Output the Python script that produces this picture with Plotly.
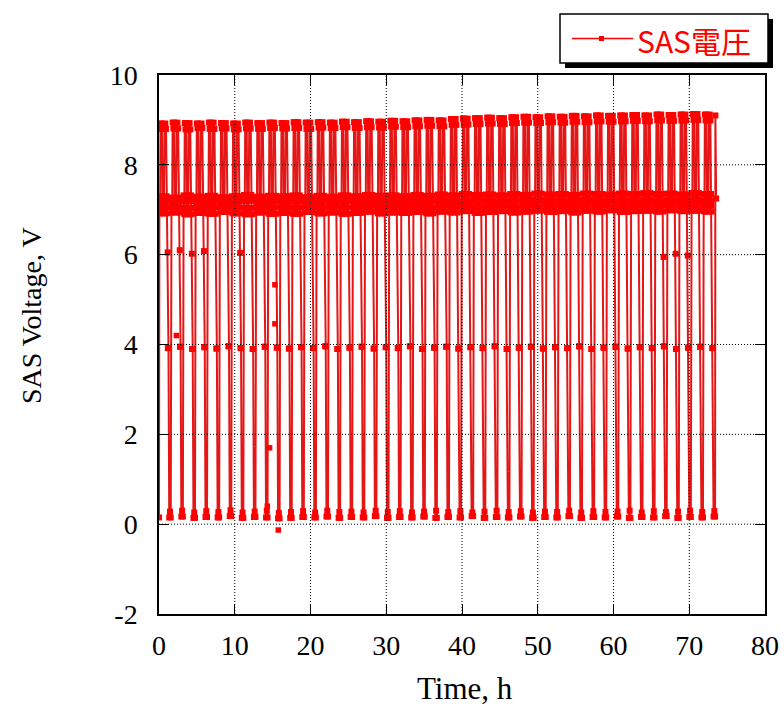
import plotly.graph_objects as go

# ---------------- data ----------------
# start time (h) of each orbit cycle (sunlight part first, eclipse at end)
cycle_start = [0.05, 1.65, 3.25, 4.84, 6.44, 8.04, 9.63, 11.23, 12.83, 14.42,
               16.02, 17.62, 19.21, 20.81, 22.41, 24.00, 25.60, 27.20, 28.80, 30.39,
               31.99, 33.59, 35.18, 36.78, 38.38, 39.97, 41.57, 43.17, 44.76, 46.36,
               47.96, 49.55, 51.15, 52.75, 54.34, 55.94, 57.54, 59.13, 60.73, 62.33,
               63.92, 65.52, 67.12, 68.71, 70.31, 71.91]

high_a = [8.92, 8.94, 8.93, 8.92, 8.94, 8.93, 8.92, 8.94, 8.93, 8.94,
          8.93, 8.95, 8.94, 8.95, 8.94, 8.96, 8.95, 8.97, 8.96, 8.98,
          8.97, 8.99, 9.00, 8.99, 9.02, 9.03, 9.04, 9.05, 9.04, 9.06,
          9.07, 9.06, 9.08, 9.07, 9.09, 9.08, 9.10, 9.09, 9.10, 9.11,
          9.10, 9.12, 9.11, 9.12, 9.13, 9.12]
high_b = [8.80, 8.81, 8.79, 8.82, 8.80, 8.81, 8.79, 8.81, 8.80, 8.82,
          8.81, 8.82, 8.80, 8.83, 8.82, 8.84, 8.82, 8.84, 8.83, 8.85,
          8.84, 8.86, 8.87, 8.86, 8.89, 8.90, 8.91, 8.92, 8.91, 8.93,
          8.94, 8.93, 8.95, 8.94, 8.96, 8.95, 8.97, 8.96, 8.97, 8.98,
          8.97, 8.99, 8.98, 8.99, 9.00, 8.99]
mid_a = [7.30, 7.27, 7.32, 7.29, 7.31, 7.28, 7.30, 7.33, 7.29, 7.31,
         7.30, 7.32, 7.28, 7.31, 7.29, 7.32, 7.30, 7.33, 7.31, 7.32,
         7.30, 7.33, 7.31, 7.34, 7.32, 7.35, 7.33, 7.34, 7.32, 7.35,
         7.33, 7.36, 7.34, 7.35, 7.33, 7.36, 7.35, 7.34, 7.36, 7.35,
         7.37, 7.35, 7.36, 7.34, 7.37, 7.35]
mid_d = [7.18, 7.16, 7.19, 7.17, 7.18, 7.16, 7.18, 7.20, 7.17, 7.18,
         7.18, 7.19, 7.16, 7.18, 7.17, 7.19, 7.18, 7.20, 7.18, 7.19,
         7.18, 7.20, 7.18, 7.21, 7.19, 7.21, 7.20, 7.20, 7.19, 7.21,
         7.20, 7.22, 7.21, 7.21, 7.20, 7.22, 7.21, 7.21, 7.22, 7.21,
         7.23, 7.21, 7.22, 7.21, 7.23, 7.21]
mid_c = [7.05, 7.07, 7.04, 7.06, 7.05, 7.08, 7.05, 7.04, 7.07, 7.05,
         7.06, 7.05, 7.08, 7.05, 7.07, 7.05, 7.06, 7.09, 7.05, 7.07,
         7.06, 7.08, 7.05, 7.09, 7.07, 7.10, 7.06, 7.08, 7.10, 7.07,
         7.09, 7.11, 7.08, 7.10, 7.07, 7.11, 7.09, 7.12, 7.08, 7.10,
         7.11, 7.09, 7.12, 7.10, 7.11, 7.09]
mid_b = [6.92, 6.94, 6.90, 6.93, 6.91, 6.95, 6.92, 6.90, 6.94, 6.91,
         6.93, 6.91, 6.95, 6.92, 6.94, 6.91, 6.93, 6.96, 6.92, 6.94,
         6.93, 6.95, 6.92, 6.96, 6.94, 6.97, 6.93, 6.95, 6.97, 6.94,
         6.96, 6.98, 6.95, 6.97, 6.94, 6.98, 6.96, 6.99, 6.95, 6.97,
         6.98, 6.96, 6.99, 6.97, 6.98, 6.96]
step_v = [3.92, 3.95, 3.90, 3.94, 3.91, 3.96, 3.92, 3.90, 3.95, 3.93,
          3.91, 3.94, 3.92, 3.96, 3.90, 3.93, 3.95, 3.91, 3.94, 3.92,
          3.96, 3.90, 3.93, 3.95, 3.91, 3.94, 3.92, 3.96, 3.90, 3.93,
          3.95, 3.91, 3.94, 3.92, 3.96, 3.90, 3.93, 3.95, 3.91, 3.94,
          3.92, 3.96, 3.90, 3.93, 3.95, 3.92]
low_a = [0.15, 0.17, 0.14, 0.16, 0.15, 0.18, 0.14, 0.16, 0.15, 0.13,
         0.14, 0.16, 0.15, 0.17, 0.14, 0.16, 0.15, 0.18, 0.14, 0.16,
         0.15, 0.17, 0.14, 0.16, 0.15, 0.18, 0.14, 0.16, 0.15, 0.17,
         0.14, 0.16, 0.15, 0.18, 0.14, 0.16, 0.15, 0.17, 0.14, 0.16,
         0.15, 0.18, 0.14, 0.16, 0.15, 0.17]
low_b = [0.28, 0.30, 0.26, 0.29, 0.27, 0.31, 0.26, 0.28, 0.30, 0.25,
         0.27, 0.29, 0.26, 0.30, 0.27, 0.28, 0.26, 0.30, 0.27, 0.29,
         0.26, 0.28, 0.30, 0.27, 0.29, 0.26, 0.28, 0.30, 0.27, 0.29,
         0.26, 0.28, 0.27, 0.30, 0.26, 0.29, 0.27, 0.28, 0.30, 0.26,
         0.29, 0.27, 0.28, 0.30, 0.27, 0.29]
dip_v = [6.05, 6.10, 6.02, 6.08, None, None, 6.04, None, None, None,
         None, None, None, None, None, None, None, None, None, None,
         None, None, None, None, None, None, None, None, None, None,
         None, None, None, None, None, None, None, None, None, None,
         None, 5.95, 6.02, 5.98, None, None]

# shape of one orbit: time offset (h) from cycle start and level used
phase_offset = [0.00, 0.03, 0.06, 0.09, 0.15, 0.25, 0.35,
                0.42, 0.45, 0.48, 0.51, 0.54, 0.57, 0.60,
                0.68, 0.78, 0.88,
                0.96, 0.99, 1.02, 1.05,
                1.12, 1.20, 1.30, 1.40, 1.50]
phase_level = ["mid_a", "mid_d", "mid_c", "mid_b", "high_a", "high_b", "high_a",
               "mid_b", "mid_c", "mid_d", "mid_a", "mid_d", "mid_c", "mid_b",
               "high_b", "high_a", "high_b",
               "mid_a", "mid_d", "mid_c", "mid_b",
               "step", "step", "low_a", "low_b", "low_a"]
dip_offset = 1.09

first_t, first_v = [0.0], [0.15]
last_t, last_v = [73.45, 73.55], [9.10, 7.25]

odd_t = [2.3, 14.3, 14.6, 15.3, 15.3, 15.75]
odd_v = [4.2, 0.4, 1.7, 5.33, 4.46, -0.13]

x_ticks = [0, 10, 20, 30, 40, 50, 60, 70, 80]
y_ticks = [-2, 0, 2, 4, 6, 8, 10]

series_name = "SAS電圧"
x_title = "Time, h"
y_title = "SAS Voltage, V"

# ---------------- build the series ----------------
levels = {"high_a": high_a, "high_b": high_b, "mid_a": mid_a, "mid_b": mid_b,
          "mid_c": mid_c, "mid_d": mid_d, "step": step_v, "low_a": low_a,
          "low_b": low_b}
t = list(first_t)
v = list(first_v)
for k, s in enumerate(cycle_start):
    pts = [(s + off, levels[key][k]) for off, key in zip(phase_offset, phase_level)]
    if dip_v[k] is not None:
        pts.append((s + dip_offset, dip_v[k]))
    pts.sort()
    for tt, vv in pts:
        t.append(round(tt, 3))
        v.append(vv)
t += last_t
v += last_v

RED = "#ff0000"
LINE_RED = "rgb(228,22,22)"
fig = go.Figure()
fig.add_trace(go.Scatter(x=t, y=v, mode="lines+markers", name=series_name,
                         line=dict(color=LINE_RED, width=2),
                         marker=dict(symbol="square", size=6, color=RED),
                         showlegend=False))
fig.add_trace(go.Scatter(x=odd_t, y=odd_v, mode="markers", name=series_name,
                         marker=dict(symbol="square", size=5.5, color=RED),
                         showlegend=False))

# ---------------- layout ----------------
W, H = 784, 706
L, R, T, B = 159, 19, 75, 92
PW, PH = W - L - R, H - T - B


def px(xp):
    return (xp - L) / PW


def py(yp):
    return (H - B - yp) / PH


shapes = []
# dotted grid above the data
for xv in x_ticks[1:-1]:
    shapes.append(dict(type="line", xref="x", yref="paper", x0=xv, x1=xv, y0=0, y1=1,
                       line=dict(color="black", width=1, dash="1px,2px"), layer="above"))
for yv in y_ticks[1:-1]:
    shapes.append(dict(type="line", xref="paper", yref="y", x0=0, x1=1, y0=yv, y1=yv,
                       line=dict(color="black", width=1, dash="1px,2px"), layer="above"))

# legend box with drop shadow
bx0, by0, bx1, by1 = 560, 14, 768, 63
shapes.append(dict(type="rect", xref="paper", yref="paper",
                   x0=px(bx0 + 5), x1=px(bx1 + 5), y0=py(by1 + 5), y1=py(by0 + 5),
                   fillcolor="black", line=dict(width=0), layer="above"))
shapes.append(dict(type="rect", xref="paper", yref="paper",
                   x0=px(bx0), x1=px(bx1), y0=py(by1), y1=py(by0),
                   fillcolor="white", line=dict(color="black", width=1.5), layer="above"))
ly = (by0 + by1) / 2
shapes.append(dict(type="line", xref="paper", yref="paper",
                   x0=px(572), x1=px(633), y0=py(ly), y1=py(ly),
                   line=dict(color=RED, width=1.3), layer="above"))
shapes.append(dict(type="rect", xref="paper", yref="paper",
                   x0=px(599), x1=px(604), y0=py(ly + 2.5), y1=py(ly - 2.5),
                   fillcolor=RED, line=dict(width=0), layer="above"))

annotations = [
    dict(text=series_name, xref="paper", yref="paper", x=px(635), y=py(ly + 1),
         xanchor="left", yanchor="middle", showarrow=False,
         font=dict(family="Noto Sans CJK JP", size=30, color=RED)),
    dict(text=x_title, xref="paper", yref="paper", x=px(465), y=py(688),
         xanchor="center", yanchor="middle", showarrow=False,
         font=dict(family="Liberation Serif", size=31, color="black")),
    dict(text=y_title, xref="paper", yref="paper", x=px(31), y=py(316),
         xanchor="center", yanchor="middle", showarrow=False, textangle=-90,
         font=dict(family="Liberation Serif", size=28, color="black")),
]

axis_common = dict(showline=True, linecolor="black", linewidth=1.5, mirror="ticks",
                   ticks="inside", ticklen=10, tickwidth=1, tickcolor="black",
                   showgrid=False, zeroline=False, layer="above traces",
                   tickfont=dict(family="Liberation Serif", size=28, color="black"))

fig.update_layout(
    width=W, height=H,
    margin=dict(l=L, r=R, t=T, b=B, autoexpand=False),
    paper_bgcolor="white", plot_bgcolor="white",
    xaxis=dict(range=[0, 80], tickvals=x_ticks, ticktext=[str(x) for x in x_ticks],
               ticklabelstandoff=6, **axis_common),
    yaxis=dict(range=[-2, 10], tickvals=y_ticks, ticktext=[str(y) for y in y_ticks],
               ticklabelstandoff=14, **axis_common),
    shapes=shapes, annotations=annotations,
)

fig.write_html("out.html", config={"displayModeBar": False},
               post_script="document.body.style.margin='0px';")
